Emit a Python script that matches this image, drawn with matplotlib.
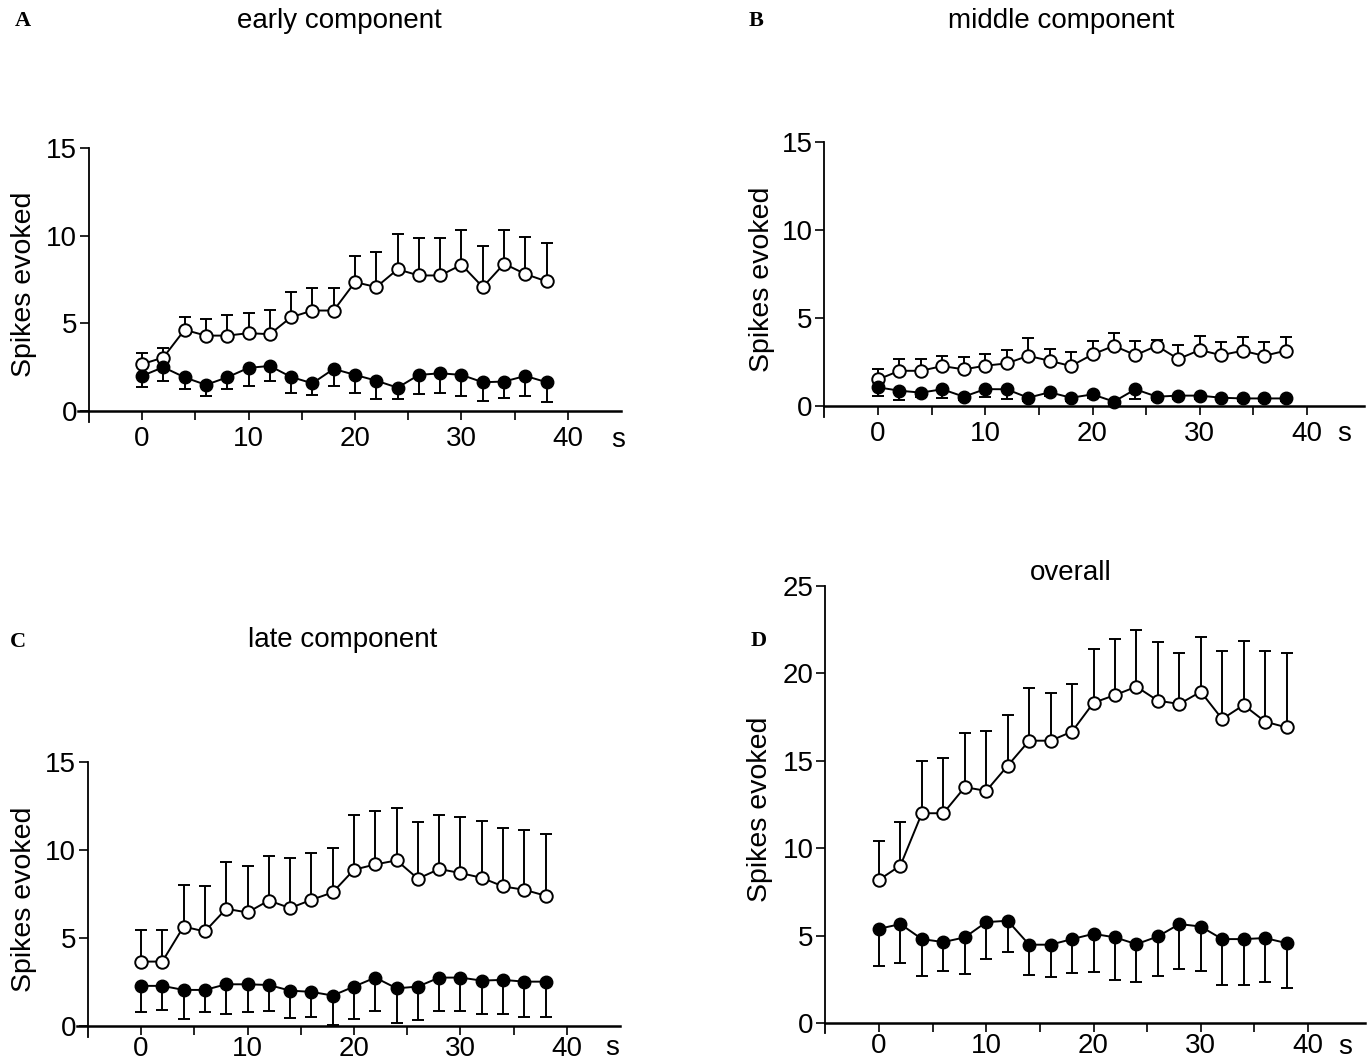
import numpy as np
import matplotlib.pyplot as plt
from matplotlib.transforms import blended_transform_factory

plt.rcParams['font.family'] = ['Liberation Sans', 'DejaVu Sans']

W, H = 1367, 1062

time_s = np.arange(0, 40, 2)

# early component
early_open = [2.67, 3.05, 4.63, 4.30, 4.30, 4.44, 4.38, 5.35, 5.73, 5.73,
              7.35, 7.07, 8.08, 7.73, 7.73, 8.34, 7.07, 8.40, 7.81, 7.39]
early_open_err = [0.66, 0.53, 0.72, 0.94, 1.15, 1.14, 1.37, 1.43, 1.30, 1.30,
                  1.49, 2.00, 2.00, 2.14, 2.16, 1.96, 2.34, 1.94, 2.13, 2.19]
early_filled = [2.00, 2.50, 1.92, 1.49, 1.92, 2.46, 2.57, 1.94, 1.58, 2.40,
                2.06, 1.73, 1.33, 2.06, 2.15, 2.06, 1.64, 1.68, 2.00, 1.64]
early_filled_err = [0.61, 0.77, 0.68, 0.61, 0.68, 1.03, 0.84, 0.91, 0.67, 0.97,
                    1.01, 1.06, 0.66, 1.11, 1.14, 1.20, 1.07, 0.96, 1.12, 1.11]

# middle component
middle_open = [1.51, 2.00, 2.00, 2.27, 2.08, 2.29, 2.42, 2.85, 2.57, 2.27,
               2.93, 3.42, 2.89, 3.42, 2.67, 3.18, 2.89, 3.14, 2.85, 3.14]
middle_open_err = [0.57, 0.67, 0.67, 0.58, 0.68, 0.68, 0.79, 0.99, 0.66, 0.77,
                   0.79, 0.70, 0.80, 0.32, 0.79, 0.77, 0.76, 0.77, 0.76, 0.77]
middle_filled = [1.06, 0.87, 0.76, 0.95, 0.53, 0.96, 0.95, 0.47, 0.78, 0.47,
                 0.66, 0.25, 0.95, 0.53, 0.59, 0.59, 0.47, 0.43, 0.43, 0.43]
middle_filled_err = [0.47, 0.53, 0.25, 0.48, 0.20, 0.47, 0.53, 0.20, 0.20, 0.20,
                     0.20, 0.20, 0.53, 0.20, 0.20, 0.20, 0.15, 0.15, 0.15, 0.15]

# late component
late_open = [3.66, 3.66, 5.65, 5.37, 6.66, 6.45, 7.13, 6.70, 7.17, 7.59,
             8.88, 9.18, 9.41, 8.37, 8.92, 8.69, 8.42, 7.93, 7.74, 7.40]
late_open_err = [1.80, 1.80, 2.38, 2.56, 2.64, 2.62, 2.55, 2.84, 2.66, 2.54,
                 3.09, 3.04, 3.00, 3.22, 3.05, 3.21, 3.21, 3.30, 3.40, 3.51]
late_filled = [2.28, 2.28, 2.05, 2.05, 2.37, 2.37, 2.33, 2.01, 1.94, 1.73,
               2.24, 2.75, 2.14, 2.24, 2.75, 2.75, 2.58, 2.62, 2.52, 2.52]
late_filled_err = [1.46, 1.37, 1.63, 1.27, 1.71, 1.59, 1.48, 1.54, 1.43, 1.65,
                   1.86, 1.90, 1.99, 1.90, 1.90, 1.90, 1.92, 1.94, 1.99, 1.99]

# overall
overall_open = [8.19, 9.01, 12.00, 12.00, 13.49, 13.28, 14.72, 16.15, 16.15, 16.67,
                18.32, 18.76, 19.24, 18.44, 18.25, 18.95, 17.39, 18.19, 17.24, 16.91]
overall_open_err = [2.23, 2.51, 2.97, 3.18, 3.08, 3.41, 2.92, 3.03, 2.71, 2.72,
                    3.07, 3.20, 3.24, 3.35, 2.93, 3.11, 3.87, 3.64, 4.02, 4.25]
overall_filled = [5.39, 5.66, 4.80, 4.63, 4.90, 5.77, 5.85, 4.48, 4.48, 4.80,
                  5.10, 4.90, 4.51, 4.95, 5.66, 5.52, 4.80, 4.80, 4.86, 4.57]
overall_filled_err = [2.15, 2.23, 2.13, 1.64, 2.12, 2.11, 1.81, 1.74, 1.83, 1.96,
                      2.17, 2.42, 2.17, 2.28, 2.56, 2.55, 2.61, 2.65, 2.54, 2.57]


def make_axes(fig, x0px, x40px, y0px, ytop_px, ytop, xlim, ylim):
    sx = (x40px - x0px) / 40
    sy = (y0px - ytop_px) / ytop
    left = x0px + xlim[0] * sx
    right = x0px + xlim[1] * sx
    top = y0px - ylim[1] * sy
    bottom = y0px - ylim[0] * sy
    ax = fig.add_axes([left / W, 1 - bottom / H, (right - left) / W, (bottom - top) / H])
    ax.set_xlim(*xlim)
    ax.set_ylim(*ylim)
    return ax


def draw_panel(ax, open_y, open_err, filled_y, filled_err, ytop, label_x, xpad=4):
    zeros = np.zeros(len(time_s))
    ax.errorbar(time_s, open_y, yerr=[zeros, open_err], fmt='none', ecolor='black',
                elinewidth=1.4, capsize=4.5, capthick=1.4, zorder=2)
    ax.errorbar(time_s, filled_y, yerr=[filled_err, zeros], fmt='none', ecolor='black',
                elinewidth=1.4, capsize=4.5, capthick=1.4, zorder=2)
    ax.plot(time_s, open_y, color='black', lw=1.4, marker='o', ms=9,
            mfc='white', mec='black', mew=1.4, zorder=4)
    ax.plot(time_s, filled_y, color='black', lw=1.4, marker='o', ms=9,
            mfc='black', mec='black', zorder=4)

    for s in ['top', 'right']:
        ax.spines[s].set_visible(False)
    ax.spines['left'].set_position(('data', -5))
    ax.spines['bottom'].set_position(('data', 0))
    ax.spines['left'].set_linewidth(1.3)
    ax.spines['bottom'].set_linewidth(1.8)

    ax.set_xticks([0, 10, 20, 30, 40])
    ax.set_xticks([5, 15, 25, 35], minor=True)
    ax.set_yticks(np.arange(0, ytop + 1, 5))
    ax.tick_params(axis='both', which='both', direction='out', length=6.5, width=1.2,
                   labelsize=20)
    ax.tick_params(axis='y', pad=2)
    ax.tick_params(axis='x', which='both', pad=xpad)

    ax.set_ylabel('Spikes evoked', fontsize=20.5)
    ax.yaxis.set_label_coords(label_x / W, 0.5,
                              transform=blended_transform_factory(ax.figure.transFigure, ax.transAxes))


fig = plt.figure(figsize=(W / 100, H / 100), dpi=100)

axA = make_axes(fig, 142, 568, 411, 148, 15, (-6, 45), (-0.6, 15))
draw_panel(axA, early_open, early_open_err, early_filled, early_filled_err, 15, 37)

axB = make_axes(fig, 878, 1307, 406, 142, 15, (-5, 45.3), (-0.6, 15))
draw_panel(axB, middle_open, middle_open_err, middle_filled, middle_filled_err, 15, 775)

axC = make_axes(fig, 141, 567, 1026, 762, 15, (-6, 45), (-0.6, 15))
draw_panel(axC, late_open, late_open_err, late_filled, late_filled_err, 15, 37, xpad=0.5)

axD = make_axes(fig, 879, 1308, 1023, 586, 25, (-5, 45.3), (-0.6, 25))
draw_panel(axD, overall_open, overall_open_err, overall_filled, overall_filled_err, 25, 773, xpad=1)


def px_text(x, y, s, **kw):
    fig.text(x / W, 1 - y / H, s, ha='center', va='center', **kw)


letter_kw = dict(fontsize=16, fontweight='bold', family='Liberation Serif')
px_text(23, 21, 'A', **letter_kw)
px_text(756, 21, 'B', **letter_kw)
px_text(18, 642, 'C', **letter_kw)
px_text(759, 641, 'D', **letter_kw)

px_text(339, 21, 'early component', fontsize=20)
px_text(1061, 21, 'middle component', fontsize=20)
px_text(343, 640, 'late component', fontsize=20)
px_text(1071, 573, 'overall', fontsize=20)

px_text(618, 440, 's', fontsize=20)
px_text(1344, 434, 's', fontsize=20)
px_text(612, 1048, 's', fontsize=20)
px_text(1345, 1047, 's', fontsize=20)

fig.savefig('out.png', dpi=100)
